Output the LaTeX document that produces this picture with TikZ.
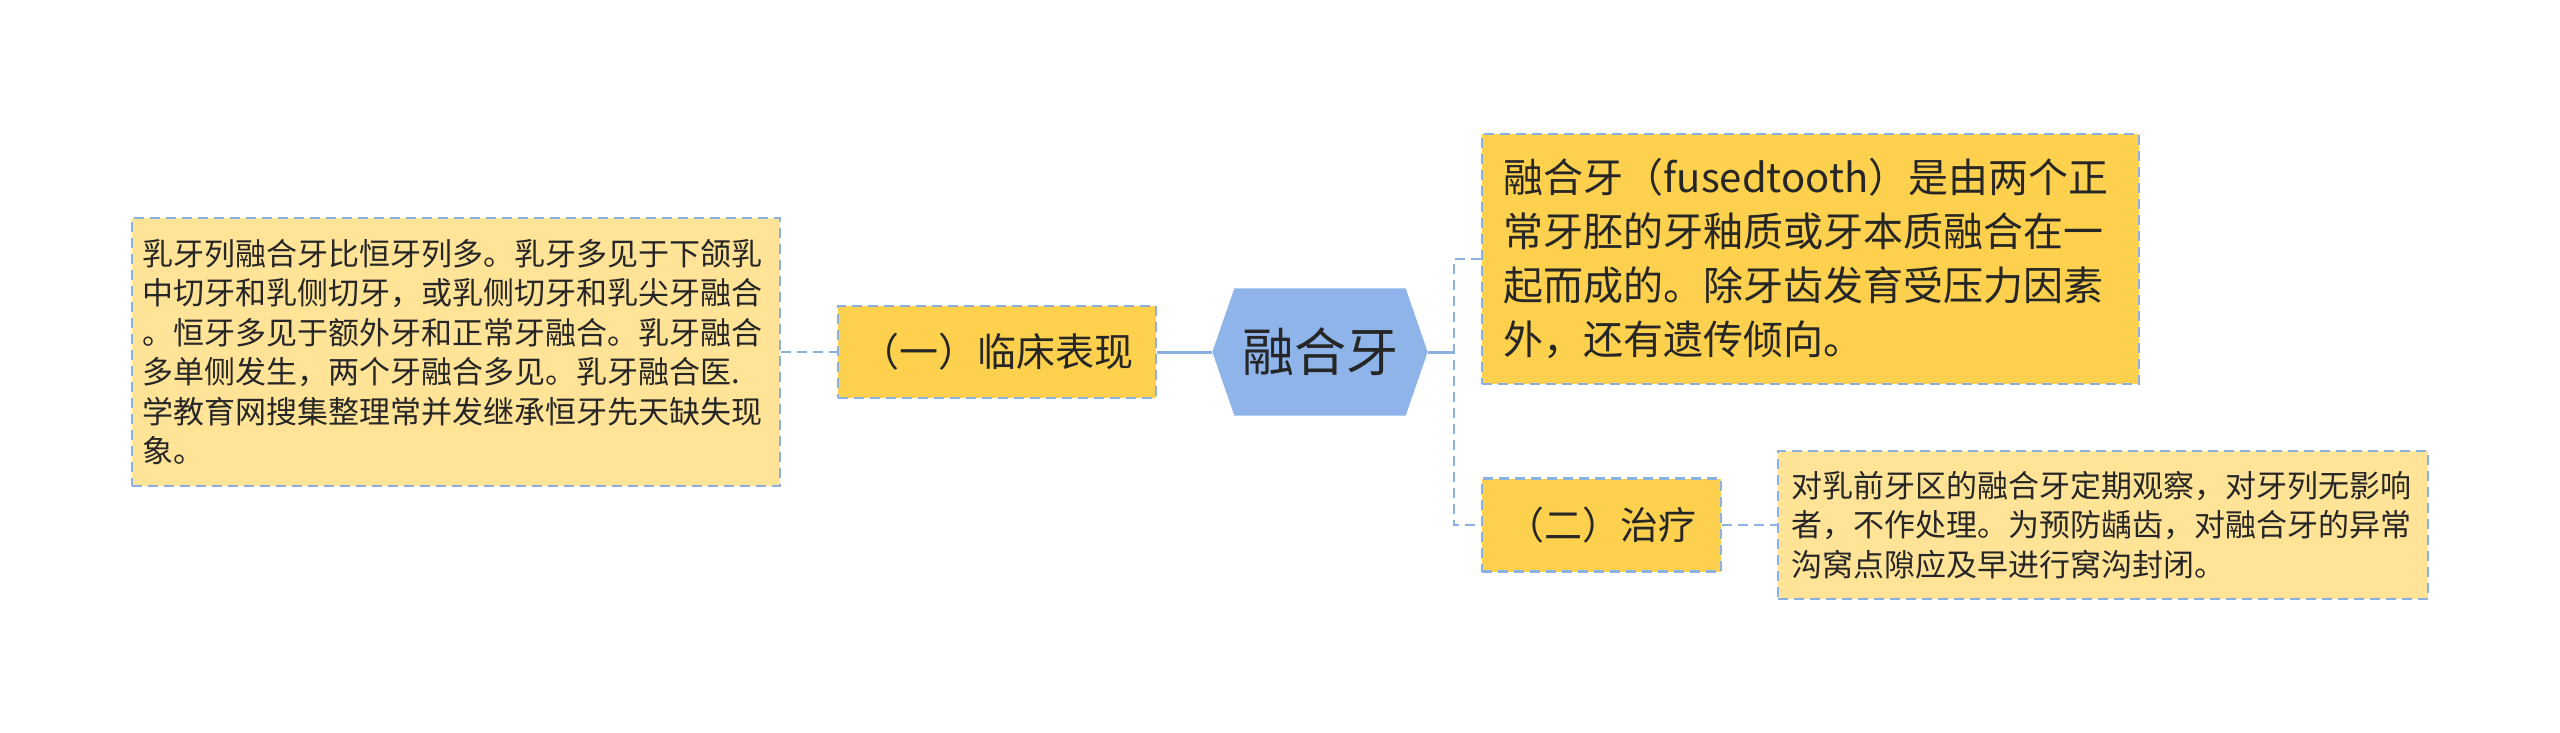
\documentclass[tikz,border=0pt]{standalone}
\usepackage{fontspec}
\setmainfont{Noto Sans CJK SC}
\definecolor{lineblue}{RGB}{139,176,226}
\definecolor{hexblue}{RGB}{142,180,234}
\definecolor{yel}{RGB}{253,208,78}
\definecolor{lyel}{RGB}{255,228,152}
\definecolor{textc}{RGB}{38,38,38}
\tikzset{
  dashline/.style={draw=lineblue, line width=0.85pt, dash pattern=on 3pt off 1.8pt},
  solidline/.style={draw=lineblue, line width=0.9pt},
  box/.style={dashline, text=textc, align=left, inner ysep=0pt},
  smallfont/.style={font=\fontsize{9.3}{11.85}\selectfont},
}
\begin{document}
\begin{tikzpicture}[x=0.3pt,y=-0.3pt]
\useasboundingbox (0,0) rectangle (2560,733);
% left detail
\node[box, fill=lyel, smallfont, text width=188pt, inner xsep=3.2pt, minimum height=80.4pt] (L) at (456,352)
 {乳牙列融合牙比恒牙列多。乳牙多见于下颌乳\\中切牙和乳侧切牙，或乳侧切牙和乳尖牙融合\\。恒牙多见于额外牙和正常牙融合。乳牙融合\\多单侧发生，两个牙融合多见。乳牙融合医.\\学教育网搜集整理常并发继承恒牙先天缺失现\\象。};
% branch 1
\node[box, fill=yel, font=\fontsize{11.7}{14}\selectfont, minimum width=95.4pt, minimum height=27.6pt, inner xsep=0pt] (A) at (997,352) {（一）临床表现};
% center
\node[minimum width=64.2pt, minimum height=37.8pt, inner sep=0pt] (C) at (1320,352) {};
\fill[hexblue] ([xshift=6.6pt]C.north west) -- ([xshift=-6.6pt]C.north east) -- (C.east)
  -- ([xshift=-6.6pt]C.south east) -- ([xshift=6.6pt]C.south west) -- (C.west) -- cycle;
\node[text=textc, font=\fontsize{15.6}{18}\selectfont] (Ct) at (C.center) {融合牙};
% top right
\node[box, fill=yel, font=\fontsize{12}{16.2}\selectfont, text width=184pt, inner xsep=6.55pt, minimum height=75pt] (T) at (1810.5,259)
 {融合牙（fusedtooth）是由两个正\\常牙胚的牙釉质或牙本质融合在一\\起而成的。除牙齿发育受压力因素\\外，还有遗传倾向。};
% branch 2
\node[box, fill=yel, font=\fontsize{11.4}{14}\selectfont, minimum width=71.7pt, minimum height=27.9pt, inner xsep=0pt] (B) at (1601.5,525) {（二）治疗};
% bottom right
\node[box, fill=lyel, smallfont, text width=187pt, inner xsep=4pt, minimum height=44.4pt] (BR) at (2103,525)
 {对乳前牙区的融合牙定期观察，对牙列无影响\\者，不作处理。为预防龋齿，对融合牙的异常\\沟窝点隙应及早进行窝沟封闭。};
% connectors
\coordinate (J) at (1454,352);
\draw[dashline] (L.east) -- (A.west);
\draw[solidline] (A.east) -- (C.west);
\draw[solidline] (C.east) -- (J);
\draw[dashline] (T.west) -- (T.west -| J) -- (B.west -| J) -- (B.west);
\draw[dashline] (B.east) -- (BR.west);
\end{tikzpicture}
\end{document}
